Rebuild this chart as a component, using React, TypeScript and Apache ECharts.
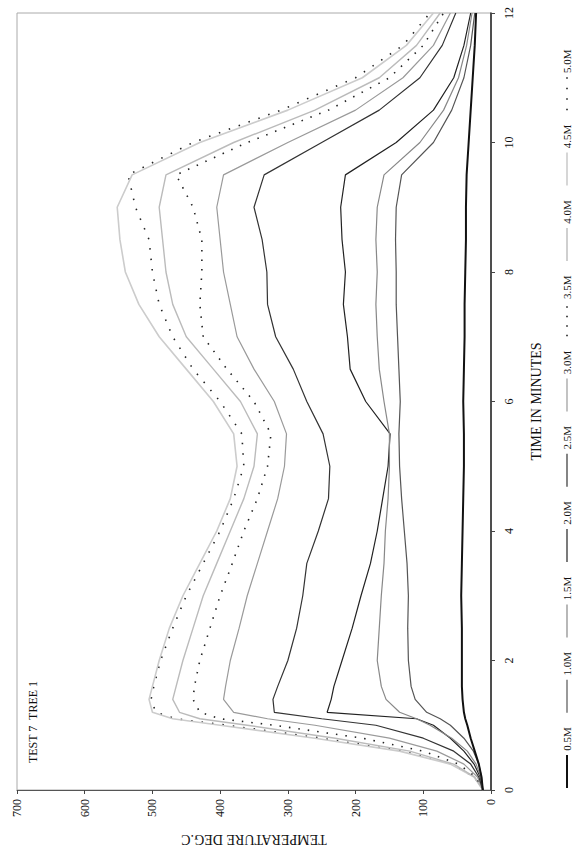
import React, { useEffect, useRef } from "react";
import * as echarts from "echarts";

const TIMES = [0, 0.2, 0.4, 0.6, 0.8, 1.0, 1.1, 1.2, 1.4, 1.6, 2.0, 2.5, 3.0, 3.5, 4.0, 4.5, 5.0, 5.5, 6.0, 6.5, 7.0, 7.5, 8.0, 8.5, 9.0, 9.5, 10.0, 10.5, 11.0, 11.5, 12.0];

const T_05 = [12, 14, 18, 24, 30, 35, 38, 40, 42, 43, 43, 43, 44, 43, 42, 41, 40, 40, 41, 40, 39, 39, 38, 37, 37, 36, 33, 30, 27, 24, 22];
const T_10 = [12, 14, 18, 26, 40, 60, 75, 95, 112, 118, 122, 123, 122, 124, 128, 132, 135, 136, 134, 136, 138, 140, 140, 141, 140, 132, 85, 58, 40, 30, 24];
const T_15 = [12, 15, 22, 35, 58, 90, 110, 135, 155, 162, 168, 165, 162, 158, 156, 152, 150, 150, 158, 165, 168, 170, 168, 170, 168, 158, 105, 70, 48, 36, 28];
const T_20 = [12, 16, 25, 40, 60, 85, 110, 242, 236, 232, 220, 205, 192, 178, 168, 160, 152, 149, 185, 208, 212, 218, 215, 220, 222, 215, 140, 85, 55, 40, 30];
const T_25 = [12, 18, 30, 55, 100, 170, 250, 320, 322, 315, 300, 287, 278, 272, 255, 240, 238, 248, 272, 292, 318, 330, 331, 338, 350, 335, 250, 165, 105, 72, 52];
const T_30 = [12, 20, 40, 80, 150, 260, 330, 380, 395, 392, 385, 372, 360, 345, 330, 315, 305, 302, 320, 350, 375, 385, 395, 400, 405, 395, 300, 200, 130, 85, 60];
const T_35 = [12, 22, 48, 100, 190, 320, 400, 430, 440, 438, 430, 415, 400, 382, 365, 345, 330, 325, 350, 390, 425, 430, 427, 427, 440, 465, 360, 240, 150, 100, 70];
const T_40 = [12, 24, 55, 120, 230, 360, 430, 460, 470, 465, 455, 440, 425, 405, 385, 365, 350, 345, 370, 410, 450, 470, 480, 485, 490, 480, 380, 260, 165, 110, 75];
const T_45 = [12, 25, 60, 135, 260, 400, 470, 500, 505, 500, 490, 475, 455, 430, 405, 385, 375, 380, 410, 450, 490, 520, 540, 548, 552, 530, 430, 300, 190, 125, 85];
const T_50 = [12, 25, 58, 130, 250, 390, 465, 495, 502, 498, 488, 470, 450, 425, 400, 380, 365, 368, 400, 440, 470, 490, 500, 505, 525, 536, 440, 310, 200, 130, 90];

const SERIES_NAMES = ["0.5M", "1.0M", "1.5M", "2.0M", "2.5M", "3.0M", "3.5M", "4.0M", "4.5M", "5.0M"];
const SERIES_VALUES = [T_05, T_10, T_15, T_20, T_25, T_30, T_35, T_40, T_45, T_50];

const TEMP_TICKS = [0, 100, 200, 300, 400, 500, 600, 700];
const TIME_TICKS = [0, 2, 4, 6, 8, 10, 12];

const STYLES: { color: string; width: number; dash: any }[] = [
  { color: "#111", width: 2, dash: "solid" },
  { color: "#555", width: 1.2, dash: "solid" },
  { color: "#888", width: 1.2, dash: "solid" },
  { color: "#222", width: 1.2, dash: "solid" },
  { color: "#333", width: 1.2, dash: "solid" },
  { color: "#9a9a9a", width: 1.2, dash: "solid" },
  { color: "#222", width: 1.6, dash: [1.5, 8] },
  { color: "#bbb", width: 1.4, dash: "solid" },
  { color: "#ccc", width: 1.6, dash: "solid" },
  { color: "#222", width: 1.6, dash: [1.5, 9] },
];

const FONT = "'Liberation Serif', 'DejaVu Serif', serif";

export default function App() {
  const ref = useRef<HTMLDivElement>(null);
  useEffect(() => {
    if (!ref.current) return;
    const chart = echarts.init(ref.current, undefined, { renderer: "svg" });

    const series = SERIES_NAMES.map((name, si) => ({
      name,
      type: "line",
      data: TIMES.map((t, i) => [SERIES_VALUES[si][i], t]),
      showSymbol: false,
      lineStyle: { color: STYLES[si].color, width: STYLES[si].width, type: STYLES[si].dash },
      z: 10 - si,
    }));

    const legendEls: any[] = [];
    SERIES_NAMES.forEach((name, i) => {
      const yBase = 788 - i * 75.3;
      const st = STYLES[i];
      legendEls.push({
        type: "line",
        shape: { x1: 567, y1: yBase, x2: 567, y2: yBase - 33 },
        style: {
          stroke: st.color,
          lineWidth: st.width,
          lineDash: Array.isArray(st.dash) ? st.dash : null,
        },
      });
      legendEls.push({
        type: "text",
        x: 567,
        y: yBase - 49,
        rotation: Math.PI / 2,
        style: {
          text: name,
          fill: "#111",
          fontFamily: FONT,
          fontSize: 11,
          align: "center",
          verticalAlign: "middle",
        },
      });
    });

    chart.setOption({
      animation: false,
      backgroundColor: "#fff",
      grid: {
        left: 17,
        right: 92,
        top: 13,
        bottom: 60,
        show: true,
        borderColor: "#aaa",
        borderWidth: 1,
      },
      xAxis: {
        type: "value",
        min: TEMP_TICKS[0],
        max: TEMP_TICKS[TEMP_TICKS.length - 1],
        interval: 100,
        inverse: true,
        position: "bottom",
        name: "TEMPERATURE DEG.C",
        nameLocation: "middle",
        nameGap: 42,
        nameRotate: 180,
        nameTextStyle: { fontFamily: FONT, fontSize: 14, color: "#111" },
        axisLine: { show: true, lineStyle: { color: "#555", width: 1 } },
        axisTick: { show: true, length: 4, lineStyle: { color: "#444" } },
        axisLabel: { rotate: 90, margin: 9, fontFamily: FONT, fontSize: 12, color: "#111" },
        splitLine: { show: false },
      },
      yAxis: {
        type: "value",
        min: TIME_TICKS[0],
        max: TIME_TICKS[TIME_TICKS.length - 1],
        interval: 2,
        position: "right",
        name: "TIME IN MINUTES",
        nameLocation: "middle",
        nameGap: 38,
        nameRotate: 90,
        nameTextStyle: { fontFamily: FONT, fontSize: 14, color: "#111" },
        axisLine: { show: true, lineStyle: { color: "#222", width: 1.5 } },
        axisTick: { show: true, length: 4, lineStyle: { color: "#444" } },
        axisLabel: { rotate: 90, margin: 12, fontFamily: FONT, fontSize: 12, color: "#111" },
        splitLine: { show: false },
      },
      legend: { show: false },
      graphic: [
        {
          type: "text",
          x: 33,
          y: 722,
          rotation: Math.PI / 2,
          style: {
            text: "TEST 7  TREE 1",
            fill: "#111",
            fontFamily: FONT,
            fontSize: 12,
            align: "center",
            verticalAlign: "middle",
          },
        },
        ...legendEls,
      ],
      series,
    });
    return () => chart.dispose();
  }, []);
  return (
    <div
      ref={ref}
      style={{ position: "absolute", left: 0, top: 0, width: 583, height: 851 }}
    />
  );
}
